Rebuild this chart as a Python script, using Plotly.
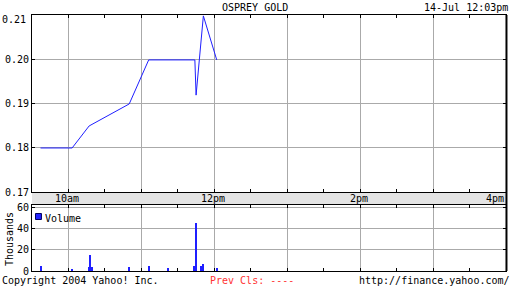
import plotly.graph_objects as go

# ---- data ----
day = "2004-07-14 "
price_times = ["09:37", "10:03", "10:17", "10:50", "11:06", "11:44", "11:45", "11:51", "12:02"]
price_values = [0.18, 0.18, 0.185, 0.19, 0.20, 0.20, 0.192, 0.21, 0.20]

vol_times = ["09:37", "10:03", "10:17", "10:18", "10:19", "10:50", "11:06", "11:22",
             "11:43", "11:44", "11:45", "11:49", "11:51", "12:02"]
vol_values = [5, 1, 4, 15, 4, 4, 5, 3, 4.5, 4.5, 45, 5, 7, 3]  # thousands

price_ticks = [0.17, 0.18, 0.19, 0.20, 0.21]
vol_ticks = [0, 20, 40, 60]
time_ticks = ["10:00", "12:00", "14:00", "16:00"]
time_labels = ["10am", "12pm", "2pm", "4pm"]

title = "OSPREY GOLD"
stamp = "14-Jul 12:03pm"

# ---- layout geometry ----
W, H = 512, 288
L, R, T, B = 31, 5, 15, 17
pw, ph = W - L - R, H - T - B


def px(x):
    return (x - L) / pw


def py(y):
    return (H - B - y) / ph


up_lo = py(192)
vol_hi = py(205)

FONT = "DejaVu Sans Mono"
GRID = "#aaaaaa"
BLUE = "#1f1fff"

fig = go.Figure()
fig.add_trace(go.Scatter(x=[day + t for t in price_times], y=price_values,
                         mode="lines", line=dict(color=BLUE, width=1),
                         xaxis="x", yaxis="y", showlegend=False))
fig.add_trace(go.Bar(x=[day + t for t in vol_times], y=vol_values,
                     width=50000, marker=dict(color=BLUE, line=dict(width=0)),
                     xaxis="x2", yaxis="y2", showlegend=False))

xcommon = dict(type="date", range=[day + "09:30", day + "16:00"],
               tick0=day + "10:00", dtick=3600000,
               showgrid=True, gridcolor=GRID, gridwidth=1,
               ticks="inside", ticklen=3, tickcolor="black",
               minor=dict(dtick=1800000, tick0=day + "09:30", ticks="inside",
                          ticklen=3, tickcolor="black", showgrid=False),
               showline=True, linecolor="black", linewidth=1, mirror="ticks",
               showticklabels=False, zeroline=False, fixedrange=True)

fig.update_layout(
    width=W, height=H,
    margin=dict(l=L, r=R, t=T, b=B, pad=0),
    paper_bgcolor="white", plot_bgcolor="white",
    font=dict(family=FONT, size=10, color="black"),
    bargap=0,
    xaxis=dict(domain=[0, 1], anchor="y", **xcommon),
    xaxis2=dict(domain=[0, 1], anchor="y2", matches="x", **xcommon),
    yaxis=dict(domain=[up_lo, 1], anchor="x", range=[0.17, 0.2102],
               tickvals=price_ticks[:-1], tickformat=".2f",
               showgrid=True, gridcolor=GRID, ticks="inside", ticklen=3,
               tickcolor="black", showline=True, linecolor="black", mirror="ticks",
               zeroline=False, tickfont=dict(family=FONT, size=10)),
    yaxis2=dict(domain=[0, vol_hi], anchor="x2", range=[0, 62],
                tickvals=vol_ticks, showgrid=True, gridcolor=GRID,
                ticks="inside", ticklen=3, tickcolor="black",
                showline=True, linecolor="black", mirror="ticks",
                zeroline=False, tickfont=dict(family=FONT, size=10)),
)

shapes = []
# gray band holding time labels
shapes.append(dict(type="rect", xref="paper", yref="paper", x0=0, x1=1,
                   y0=vol_hi, y1=up_lo, fillcolor="#e4e4e4", line=dict(width=0),
                   layer="below"))
# thicker right border
shapes.append(dict(type="line", xref="paper", yref="paper", x0=1.001, x1=1.001,
                   y0=0, y1=1, line=dict(color="black", width=2)))
# legend swatch
shapes.append(dict(type="rect", xref="paper", yref="paper",
                   x0=px(34.5), x1=px(40.5), y0=py(219.5), y1=py(213.5),
                   fillcolor="#2222ff", line=dict(color="#000060", width=1)))
fig.update_layout(shapes=shapes)

ann = []
for t, lab in zip(time_ticks, time_labels):
    last = t == time_ticks[-1]
    ann.append(dict(x=day + t, y=(up_lo + vol_hi) / 2, xref="x", yref="paper",
                    text=lab, showarrow=False, xanchor="right" if last else "center",
                    yanchor="middle", xshift=-1 if last else -1,
                    font=dict(family=FONT, size=10, color="black")))
# top price label (drawn slightly below top border as in reference)
ann.append(dict(x=0, y=price_ticks[-1], xref="paper", yref="y", text=f"{price_ticks[-1]:.2f}",
                showarrow=False, xanchor="right", yanchor="middle", xshift=-5, yshift=-4,
                font=dict(family=FONT, size=10, color="black")))
ann.append(dict(x=px(255), y=py(7), xref="paper", yref="paper", text=title,
                showarrow=False, xanchor="center", yanchor="middle",
                font=dict(family=FONT, size=10, color="black")))
ann.append(dict(x=px(510), y=py(7), xref="paper", yref="paper", text=stamp,
                showarrow=False, xanchor="right", yanchor="middle",
                font=dict(family=FONT, size=10, color="black")))
ann.append(dict(x=px(8), y=py(239), xref="paper", yref="paper", text="Thousands",
                textangle=-90, showarrow=False, xanchor="center", yanchor="middle",
                font=dict(family=FONT, size=10, color="black")))
ann.append(dict(x=px(43), y=py(218), xref="paper", yref="paper", text="Volume",
                showarrow=False, xanchor="left", yanchor="middle",
                font=dict(family=FONT, size=10, color="black")))
ann.append(dict(x=px(0), y=py(280), xref="paper", yref="paper",
                text="Copyright 2004 Yahoo! Inc.", showarrow=False,
                xanchor="left", yanchor="middle",
                font=dict(family=FONT, size=10, color="black")))
ann.append(dict(x=px(209), y=py(280), xref="paper", yref="paper",
                text="Prev Cls: ----", showarrow=False,
                xanchor="left", yanchor="middle",
                font=dict(family=FONT, size=10, color="#ff3333")))
ann.append(dict(x=px(512), y=py(280), xref="paper", yref="paper",
                text="http://finance.yahoo.com/", showarrow=False,
                xanchor="right", yanchor="middle",
                font=dict(family=FONT, size=10, color="black")))
for a in ann:
    a.setdefault("borderpad", 0)
fig.update_layout(annotations=ann)

fig.write_html("out.html", config=dict(displayModeBar=False))
